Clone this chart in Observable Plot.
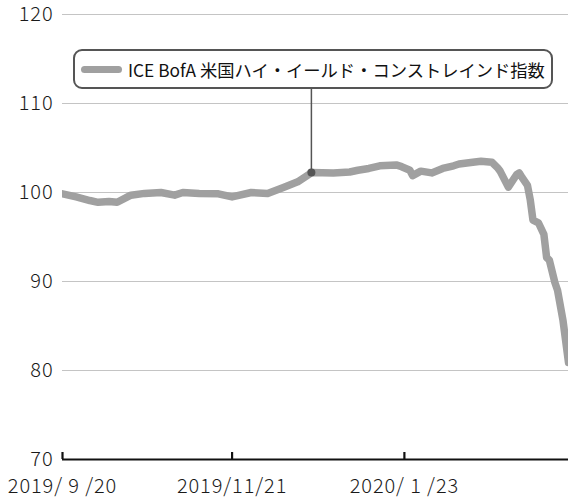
<!DOCTYPE html>
<html>
<head>
<meta charset="utf-8">
<script src="https://cdn.jsdelivr.net/npm/d3@7"></script>
<script src="https://cdn.jsdelivr.net/npm/@observablehq/plot@0.6"></script>
<style>
  html, body { margin: 0; padding: 0; background: #fff; }
  #wrap { position: relative; width: 568px; height: 497px; font-family: "Noto Sans CJK JP", "Noto Sans", sans-serif; }
  #legend {
    position: absolute; left: 73px; top: 49px; width: 476px; height: 36px;
    border: 2px solid #555; border-radius: 9px; background: #fff;
    display: flex; align-items: center; box-sizing: content-box;
    font-size: 17.3px; color: #111; white-space: nowrap; font-weight: 400;
  }
  #legend .sw { display: inline-block; width: 41px; height: 7px; border-radius: 4px; background: #a0a0a0; margin: 0 6px 0 6px; }
  svg text { letter-spacing: 0.9px; }
</style>
</head>
<body>
<div id="wrap"></div>
<script>
const seriesName = "ICE BofA 米国ハイ・イールド・コンストレインド指数";
const dates = [
  "2019-09-20","2019-09-25","2019-09-30","2019-10-03","2019-10-07","2019-10-10","2019-10-15","2019-10-20",
  "2019-10-26","2019-10-31","2019-11-03","2019-11-09","2019-11-16","2019-11-21","2019-11-28","2019-12-04",
  "2019-12-10","2019-12-15","2019-12-19","2019-12-20","2019-12-28","2020-01-03","2020-01-06","2020-01-10",
  "2020-01-14","2020-01-20","2020-01-22","2020-01-25","2020-01-26","2020-01-29","2020-02-02","2020-02-06",
  "2020-02-10","2020-02-12","2020-02-17","2020-02-20","2020-02-24","2020-02-26","2020-02-27","2020-03-01",
  "2020-03-04","2020-03-05","2020-03-06","2020-03-08","2020-03-09","2020-03-10","2020-03-12","2020-03-14",
  "2020-03-15","2020-03-16","2020-03-18","2020-03-19","2020-03-21","2020-03-23"
];
const values = [
  99.85, 99.5, 99.1, 98.9, 99.0, 98.9, 99.7, 99.9,
  100.0, 99.7, 100.0, 99.9, 99.85, 99.5, 100.0, 99.9,
  100.6, 101.2, 102.0, 102.25, 102.2, 102.3, 102.5, 102.7,
  103.0, 103.1, 102.9, 102.5, 101.9, 102.4, 102.2, 102.7,
  103.0, 103.2, 103.4, 103.5, 103.4, 102.8, 102.4, 100.6,
  102.0, 102.2, 101.7, 100.8, 99.2, 96.9, 96.6, 95.3,
  92.7, 92.4, 89.9, 89.0, 85.6, 80.9
];
const xDomain = ["2019-09-20", "2020-03-23"];
const yDomain = [70, 120];
const yTicks = [70, 80, 90, 100, 110, 120];
const yGrid = [80, 90, 100, 110, 120];
const xTickDates = ["2019-09-20", "2019-11-21", "2020-01-23"];
const xTickLabels = ["2019/ 9 /20", "2019/11/21", "2020/ 1 /23"];
const annotationDate = "2019-12-20";
const annotationValue = 102.25;
const annotationTop = 111.8; // legend box bottom in value units

const parse = d3.utcParse("%Y-%m-%d");
const data = dates.map((d, i) => ({date: parse(d), value: values[i]}));
const tickDates = xTickDates.map(parse);
const labelOf = new Map(tickDates.map((d, i) => [+d, xTickLabels[i]]));

const chart = Plot.plot({
  width: 568,
  height: 497,
  marginLeft: 62,
  marginRight: 0,
  marginTop: 14,
  marginBottom: 38,
  style: {fontFamily: '"Noto Sans CJK JP", "Noto Sans", sans-serif', background: "#fff", overflow: "visible"},
  x: {type: "utc", domain: xDomain.map(parse)},
  y: {domain: yDomain},
  marks: [
    Plot.gridY(yGrid, {stroke: "#c4c4c4", strokeOpacity: 1, strokeWidth: 1}),
    Plot.axisY(yTicks, {tickSize: 0, tickPadding: 9, fontSize: 20, fontWeight: 300, fill: "#1a1a1a", label: null}),
    Plot.ruleY([70], {stroke: "#111", strokeWidth: 2.2}),
    Plot.axisX(tickDates, {tickSize: 7, dy: -7, stroke: "#111", strokeWidth: 2.2, tickFormat: () => "", label: null}),
    Plot.axisX(tickDates, {tickSize: 0, tickPadding: 19, fontSize: 20, fontWeight: 300, fill: "#1a1a1a", tickFormat: d => labelOf.get(+d), label: null}),
    Plot.line(data, {x: "date", y: "value", stroke: "#a0a0a0", strokeWidth: 7.5, strokeLinejoin: "round", clip: true}),
    Plot.ruleX([{date: parse(annotationDate), v: annotationValue}], {x: "date", y1: "v", y2: () => annotationTop, stroke: "#555", strokeWidth: 1.5}),
    Plot.dot([{date: parse(annotationDate), v: annotationValue}], {x: "date", y: "v", r: 4, fill: "#555", stroke: "none"})
  ]
});

const wrap = document.getElementById("wrap");
wrap.appendChild(chart);
const legend = document.createElement("div");
legend.id = "legend";
legend.innerHTML = '<span class="sw"></span><span></span>';
legend.lastChild.textContent = seriesName;
wrap.appendChild(legend);
</script>
</body>
</html>
